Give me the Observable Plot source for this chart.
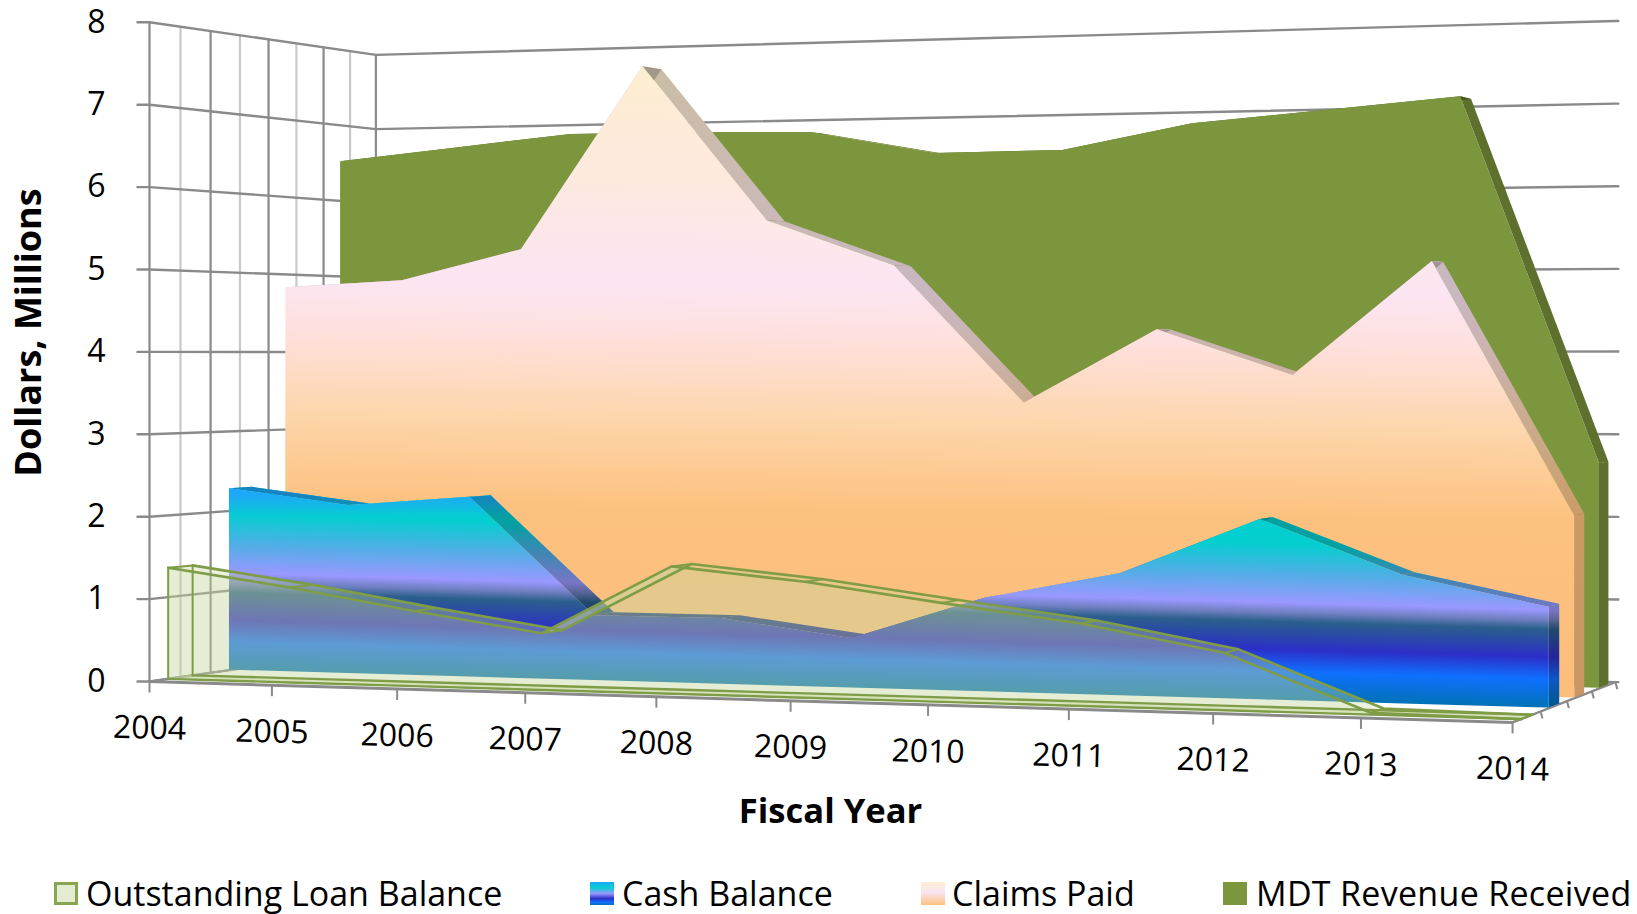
<!DOCTYPE html>
<html><head><meta charset="utf-8">
<script src="https://cdn.jsdelivr.net/npm/d3@7"></script>
<script src="https://cdn.jsdelivr.net/npm/@observablehq/plot@0.6"></script>
<style>
html,body{margin:0;padding:0;background:#fff;overflow:hidden}
#legend{position:absolute;left:0;top:870px;width:1637px;height:44px;font:34px "Open Sans",sans-serif;color:#000}
#legend span{position:absolute;white-space:nowrap;line-height:30px;top:8px}
#legend i{position:absolute;top:12px;width:24px;height:23px;display:block;box-sizing:border-box}
svg{display:block}
</style></head><body>
<div id="chart"></div>
<div id="legend"></div>
<script>
// ---- data ($ millions, FY 2004-2014) ----
const years = [2004,2005,2006,2007,2008,2009,2010,2011,2012,2013,2014];
const loanBalance = [1.36,1.15,0.90,0.67,1.49,1.34,1.13,0.93,0.64,0.02,0];
const cashBalance = [2.28,2.09,2.21,0.79,0.79,0.59,1.10,1.42,2.07,1.46,1.13];
const claimsPaid  = [4.83,4.91,5.29,7.56,5.62,5.05,3.38,4.26,3.72,5.05,2.10];
const mdtRevenue  = [6.52,6.67,6.82,6.81,6.78,6.49,6.50,6.80,6.93,7.06,2.67];
const valueTicks = [0,1,2,3,4,5,6,7,8];
const legendNames = ["Outstanding Loan Balance","Cash Balance","Claims Paid","MDT Revenue Received"];

// ---- perspective camera of the 3-D box: t along years, d into depth ----
const cam = {a:1193.7,b:267.3,c:149,d:-39.9,e:38.5,f:681,g:-0.112,h:0.109,unit:82.4};
function project(t,d,v){
  const w = 1 + cam.g*t + cam.h*d;
  return {x:(cam.a*t+cam.b*d+cam.c)/w, y:(cam.d*t+cam.e*d+cam.f)/w - v*cam.unit/w};
}
const T = i => i/(years.length-1);
const thick = 0.1;
function band(values,d,kind){
  return values.map((v,i)=>{
    const t=T(i);
    let A,B;
    if(kind==="face"){A=project(t,d,v);B=project(t,d,0);}
    if(kind==="top"){A=project(t,d,v);B=project(t,d+thick,v);}
    if(kind==="back"){A=project(t,d+thick,v);B=project(t,d+thick,0);}
    if(kind==="floor"){A=project(t,d,0);B=project(t,d+thick,0);}
    return {x1:A.x,y1:A.y,x2:B.x,y2:B.y};
  });
}
// each stretch between two years is its own quad, so overlaps never cancel
function segments(rows){
  return rows.slice(0,-1).flatMap((r,i)=>[{...r,seg:i},{...rows[i+1],seg:i}]);
}
function endCap(values,d){
  const i=values.length-1,t=T(i),v=values[i];
  const a=project(t,d,v),b=project(t,d+thick,v),c=project(t,d,0),e=project(t,d+thick,0);
  return [{x1:a.x,y1:a.y,x2:b.x,y2:b.y},{x1:c.x,y1:c.y,x2:e.x,y2:e.y}];
}
const depths = {loan:0.075,cash:0.33,claims:0.577,mdt:0.83};

// gradients
function gradient(id,stops,slope){
  return ()=>{
    const ns="http://www.w3.org/2000/svg";
    const defs=document.createElementNS(ns,"defs");
    const g=document.createElementNS(ns,"linearGradient");
    const y0=stops[0][0],y1=stops[stops.length-1][0],L=y1-y0;
    g.setAttribute("id",id);g.setAttribute("gradientUnits","userSpaceOnUse");
    g.setAttribute("x1",800);g.setAttribute("y1",y0);
    g.setAttribute("x2",800-slope*L);g.setAttribute("y2",y1);
    stops.forEach(([y,c,o])=>{
      const s=document.createElementNS(ns,"stop");
      s.setAttribute("offset",(y-y0)/L);s.setAttribute("stop-color",c);
      if(o!==undefined)s.setAttribute("stop-opacity",o);
      g.appendChild(s);
    });
    defs.appendChild(g);return defs;
  };
}
const cashStops=[[490,"#04cfd0"],[530,"#04cfd0"],[560,"#50aee6"],[589,"#9a98ff"],[599,"#6f7fc0"],[608,"#2a5f8c"],[636,"#2c2fc8"],[658,"#0f70ff"],[687,"#0072b5"]];
const cashTopStops=[[485,"#1ea8f8",1],[495,"#1ea8f8",1],[518,"#1ea8f8",0],[530,"#1ea8f8",0]];
const claimStops=[[67,"#fdeed0"],[180,"#fee9df"],[285,"#fce5f3"],[340,"#fee0dc"],[420,"#fdd6ac"],[510,"#fdc17f"],[700,"#fdbd7c"]];

const H=870;
const gridDark="#8a8a8a",gridLight="#c9c9c9",green="#7c963d",loanLine="#7f9c47",loanFill="#c5d69e",fontF='"Open Sans",sans-serif';

// grid
const hRows=valueTicks.flatMap(v=>{
  const p=project(0,0,v),q=project(0,1,v),r=project(1,1,v);
  return [{x:p.x-12,y:p.y,v},{x:p.x,y:p.y,v},{x:q.x,y:q.y,v},{x:r.x,y:r.y,v},{x:r.x+3,y:r.y,v}];
});
const wallRows=d3.range(0,9).map(k=>{const d=k/8,a=project(0,d,0),b=project(0,d,8);return {x1:a.x,y1:a.y,x2:b.x,y2:b.y,major:k%2===0};});
const frontEdge=[0,1].map(t=>project(t,0,0));
const rightEdge=[0,1].map(d=>project(1,d,0));
const leftEdge=[0,1].map(d=>project(0,d,0));
const yearTicks=years.map((yr,i)=>{const p=project(T(i),0,0);return {x:p.x,y:p.y,yr};});
const depthTicks=[0.25,0.5,0.75,1].map(d=>project(1,d,0));

const quad={x1:"x1",y1:"y1",x2:"x2",y2:"y2"};
function side(values,d,fill,shade,extra){
  const top=segments(band(values,d,"top"));
  return [
    Plot.area(top,{...quad,z:"seg",fill}),
    Plot.area(endCap(values,d),{...quad,fill}),
    ...(extra?[Plot.area(top,{...quad,z:"seg",fill:extra})]:[]),
    Plot.area(top,{...quad,z:"seg",fill:"#000",fillOpacity:shade}),
    Plot.area(endCap(values,d),{...quad,fill:"#000",fillOpacity:shade})
  ];
}
const face=(values,d,fill,o={})=>Plot.area(band(values,d,"face"),{...quad,fill,...o});

const loanTop=band(loanBalance,depths.loan,"top");
const loanFl=band(loanBalance,depths.loan,"floor");
const loanFace=band(loanBalance,depths.loan,"face");
const loanBack=band(loanBalance,depths.loan,"back");

const plot=Plot.plot({
  width:1637,height:H,margin:0,
  x:{domain:[0,1637],range:[0,1637],axis:null},
  y:{domain:[0,H],range:[0,H],axis:null},
  style:{background:"#fff",fontFamily:fontF},
  marks:[
    gradient("cashG",cashStops,0.028),
    gradient("cashTop",cashTopStops,0),
    gradient("claimG",claimStops,0.015),
    // walls
    Plot.link(wallRows.filter(d=>!d.major),{...quad,stroke:gridLight,strokeWidth:2.2}),
    Plot.link(wallRows.filter(d=>d.major),{...quad,stroke:gridDark,strokeWidth:2.2}),
    Plot.line(hRows,{x:"x",y:"y",z:"v",stroke:gridDark,strokeWidth:2.4,curve:"linear"}),
    Plot.line(leftEdge,{x:"x",y:"y",stroke:gridDark,strokeWidth:2}),
    Plot.line(rightEdge,{x:"x",y:"y",stroke:gridDark,strokeWidth:2.5}),
    Plot.line(frontEdge,{x:"x",y:"y",stroke:gridDark,strokeWidth:3}),
    Plot.link(yearTicks,{x1:"x",y1:"y",x2:"x",y2:d=>d.y+11,stroke:gridDark,strokeWidth:2}),
    Plot.link(depthTicks,{x1:"x",y1:"y",x2:d=>d.x+2,y2:d=>d.y+7,stroke:gridDark,strokeWidth:2}),
    // MDT
    ...side(mdtRevenue,depths.mdt,green,0.25),
    face(mdtRevenue,depths.mdt,green),
    // Claims
    ...side(claimsPaid,depths.claims,"url(#claimG)",0.2),
    face(claimsPaid,depths.claims,"url(#claimG)"),
    // Cash
    ...side(cashBalance,depths.cash,"url(#cashG)",0.22,"url(#cashTop)"),
    face(cashBalance,depths.cash,"url(#cashG)"),
    face(cashBalance,depths.cash,"url(#cashTop)"),
    // Loan, translucent
    Plot.area(loanFl,{...quad,fill:loanFill,fillOpacity:0.45}),
    Plot.area(segments(loanTop),{...quad,z:"seg",fill:loanFill,fillOpacity:0.35}),
    Plot.area(loanFace,{...quad,fill:loanFill,fillOpacity:0.43}),
    Plot.line(loanFl,{x:"x1",y:"y1",stroke:loanLine,strokeWidth:2.4}),
    Plot.line(loanFl,{x:"x2",y:"y2",stroke:loanLine,strokeWidth:2.4}),
    Plot.line(loanTop,{x:"x1",y:"y1",stroke:loanLine,strokeWidth:2.6}),
    Plot.line(loanTop,{x:"x2",y:"y2",stroke:loanLine,strokeWidth:2.6}),
    Plot.link(loanTop,{...quad,stroke:loanLine,strokeWidth:2}),
    Plot.link(loanFace.slice(0,1),{...quad,stroke:loanLine,strokeWidth:2}),
    Plot.link(loanBack.slice(0,1),{...quad,stroke:loanLine,strokeWidth:2}),
    // labels
    Plot.text(valueTicks,{x:()=>105,y:v=>project(0,0,v).y,text:v=>String(v),textAnchor:"end",fontSize:32,fill:"#000"}),
    Plot.text(yearTicks,{x:"x",y:d=>d.y+47,text:d=>String(d.yr),fontSize:32,rotate:1.5,fill:"#000"}),
    Plot.text(["Fiscal Year"],{x:()=>830,y:()=>811,text:d=>d,fontSize:34.6,fontWeight:700,fill:"#000"}),
    Plot.text(["Dollars, Millions"],{x:()=>29,y:()=>332,text:d=>d,fontSize:36,fontWeight:700,rotate:-90,fill:"#000"})
  ]
});
document.getElementById("chart").appendChild(plot);

// legend below the svg
const swatchStyle=[
  "left:54px;background:#e3ebd3;border:3px solid #8aa552",
  "left:590px;background:linear-gradient(#1ea8f8,#04cfd0 25%,#9a98ff 50%,#2c2fc8 72%,#0f70ff 88%,#0072b5)",
  "left:921px;background:linear-gradient(#fdeed0,#fbe4f4 45%,#fdc17f)",
  "left:1223px;background:#7c963d"];
const textLeft=[86,622,952,1256];
const textSpacing=[0,0,0,0.3];
const leg=document.getElementById("legend");
legendNames.forEach((n,i)=>{
  const sw=document.createElement("i");sw.style.cssText=swatchStyle[i];leg.appendChild(sw);
  const sp=document.createElement("span");sp.textContent=n;sp.style.left=textLeft[i]+"px";sp.style.letterSpacing=textSpacing[i]+"px";leg.appendChild(sp);
});
</script>
</body></html>
